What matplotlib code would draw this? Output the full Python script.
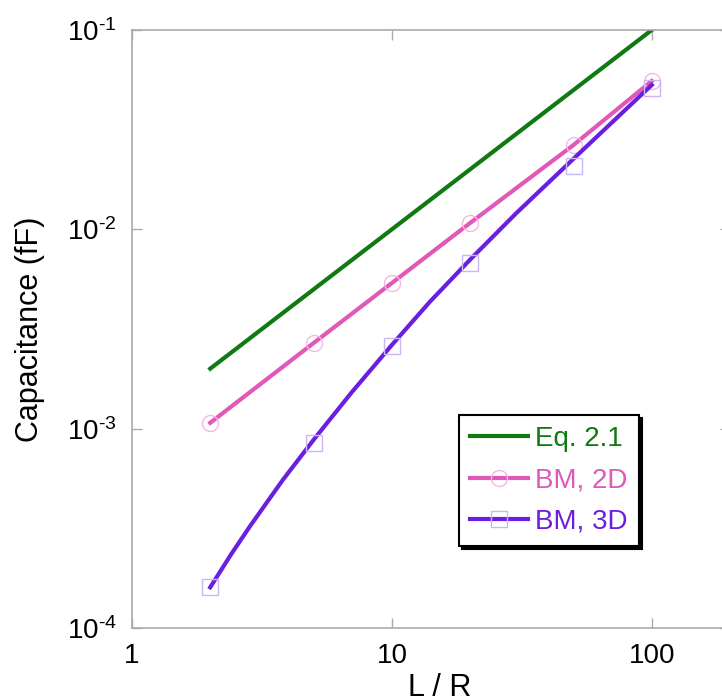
import math

import matplotlib
matplotlib.use("Agg")
import matplotlib.pyplot as plt
from matplotlib.lines import Line2D
from matplotlib.ticker import FuncFormatter, NullLocator

plt.rcParams["font.family"] = ["Liberation Sans", "DejaVu Sans"]
plt.rcParams["mathtext.fontset"] = "custom"
plt.rcParams["mathtext.rm"] = "Liberation Sans"
plt.rcParams["mathtext.it"] = "Liberation Sans:italic"
plt.rcParams["mathtext.bf"] = "Liberation Sans:bold"
plt.rcParams["mathtext.default"] = "regular"

# L/R values
lr = [2, 5, 10, 20, 50, 100]

# Eq. 2.1 (fF)
cap_eq = [0.002, 0.005, 0.01, 0.02, 0.05, 0.1]

# BM, 2D (fF)
cap_2d = [1.07e-3, 2.69e-3, 5.38e-3, 1.076e-2, 2.65e-2, 5.55e-2]

# BM, 3D markers (fF)
cap_3d = [1.6e-4, 8.5e-4, 2.6e-3, 6.8e-3, 2.08e-2, 5.1e-2]

# BM, 3D curve as drawn (fF)
lr_3d_curve = [2, 2.4, 2.84, 3.8, 5, 7, 10, 14, 20, 30, 50, 70, 100]
cap_3d_curve = [1.6e-4, 2.33e-4, 3.23e-4, 5.52e-4, 8.8e-4, 1.52e-3, 2.63e-3,
                4.33e-3, 7.05e-3, 1.2e-2, 2.26e-2, 3.42e-2, 5.3e-2]

x_ticks = [1, 10, 100]
y_ticks = [1e-4, 1e-3, 1e-2, 1e-1]

green = "#0f7a12"
pink = "#e058b8"
purple = "#6a1fe0"
pink_light = "#f4b6e6"
purple_light = "#cbb6f5"

W, H = 722, 698
fig = plt.figure(figsize=(W / 100, H / 100), dpi=100)
ax = fig.add_axes([132 / W, 70 / H, 598 / W, 598 / H])

ax.plot(lr, cap_eq, color=green, lw=3)
ax.plot(lr, cap_2d, color=pink, lw=3)
ax.plot(lr, cap_2d, ls="none", marker="o", ms=11.5, mfc="none",
        mec=pink_light, mew=1)
ax.plot(lr_3d_curve, cap_3d_curve, color=purple, lw=3)
ax.plot(lr, cap_3d, ls="none", marker="s", ms=11.5, mfc="none",
        mec=purple_light, mew=1)

ax.set_xscale("log")
ax.set_yscale("log")
ax.set_xlim(1, 200)
ax.set_ylim(1e-4, 1e-1)
ax.set_xticks(x_ticks)
ax.set_xticklabels([str(v) for v in x_ticks])
ax.set_yticks(y_ticks)
ax.yaxis.set_major_formatter(
    FuncFormatter(lambda v, _: r"$10^{\text{-}%d}$" % round(-math.log10(v)))
)
ax.xaxis.set_minor_locator(NullLocator())
ax.yaxis.set_minor_locator(NullLocator())

for s in ax.spines.values():
    s.set_color("#aaaaaa")
    s.set_linewidth(1.2)
ax.tick_params(which="major", direction="in", length=7, width=1,
               color="#aaaaaa", labelsize=20, top=True, right=True, pad=11)

ax.set_ylabel("Capacitance (fF)", fontsize=22)
ax.yaxis.set_label_coords(-0.145, 0.5)
ax.set_xlabel("L / R", fontsize=22)
ax.xaxis.set_label_coords(0.515, -0.075)

handles = [
    Line2D([], [], color=green, lw=3),
    Line2D([], [], color=pink, lw=3, marker="o", ms=11.5, mfc="none",
           mec=pink_light, mew=1),
    Line2D([], [], color=purple, lw=3, marker="s", ms=11.5, mfc="none",
           mec=purple_light, mew=1),
]
leg = fig.legend(handles, ["Eq. 2.1", "BM, 2D", "BM, 3D"],
                 loc="upper left", bbox_to_anchor=(459 / W, 1 - 415 / H),
                 borderaxespad=0, fontsize=20, labelcolor=[green, pink, purple],
                 fancybox=False, framealpha=1, edgecolor="black",
                 shadow={"color": "black", "alpha": 1},
                 handlelength=2.1, handletextpad=0.25, labelspacing=0.55,
                 borderpad=0.4)
leg.get_frame().set_linewidth(1.5)

fig.savefig("out.png", dpi=100)
